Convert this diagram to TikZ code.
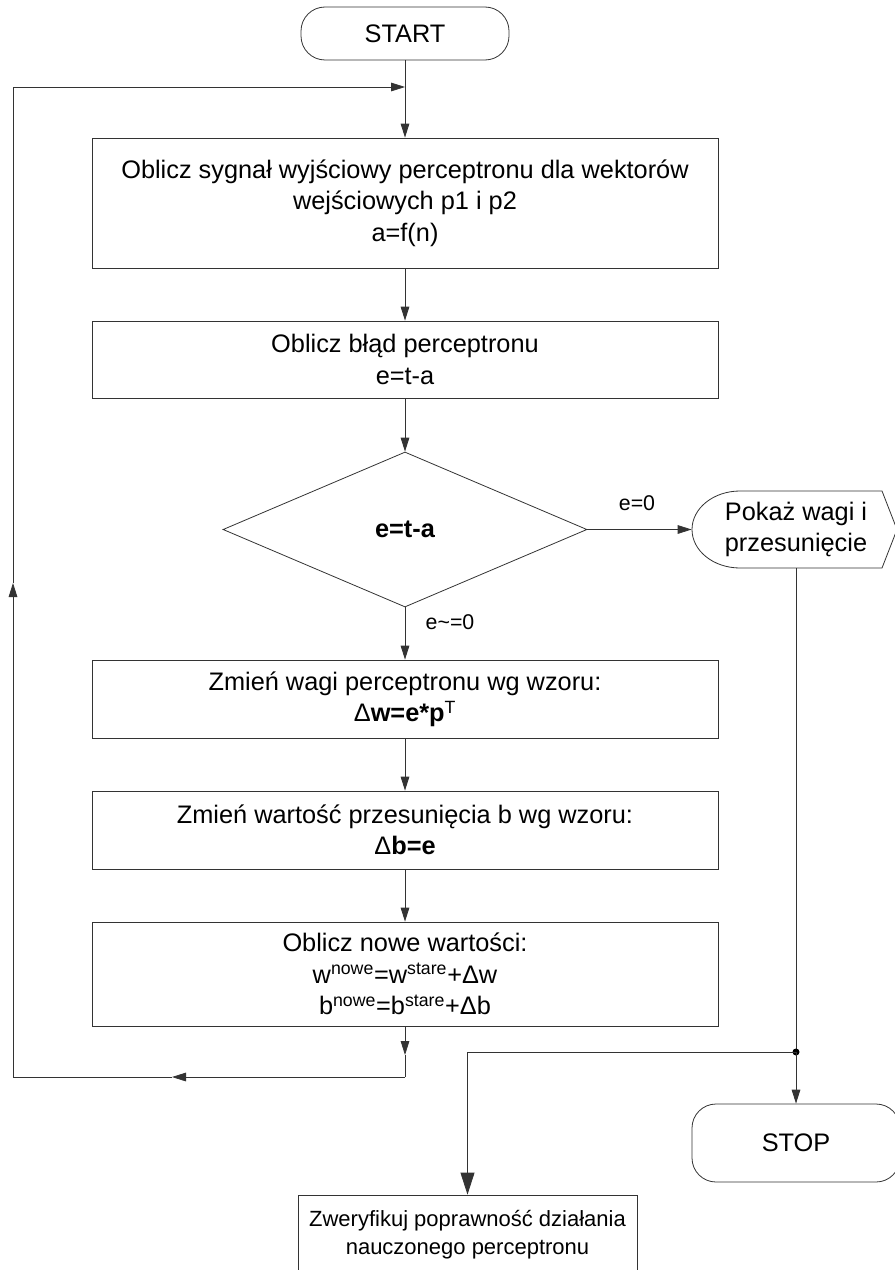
\documentclass[tikz,border=0pt]{standalone}
\usepackage{fontspec}
\setmainfont{Liberation Sans}
\usetikzlibrary{arrows.meta,shapes.geometric}

\tikzset{
  arr/.style={-{Triangle[length=10.5pt,width=6.5pt]}},
  bigarr/.style={-{Triangle[length=16.5pt,width=10.5pt]}},
  box/.style={draw, rectangle, align=center, inner sep=0pt, minimum width=469.5pt,
    font=\fontsize{19}{23.5}\selectfont},
  term/.style={draw, rectangle, rounded corners=18pt, align=center, inner sep=0pt,
    font=\fontsize{19}{22.5}\selectfont},
  lbl/.style={inner sep=0pt, font=\fontsize{16}{19}\selectfont}
}

\begin{document}
\begin{tikzpicture}[x=0.75pt,y=0.75pt,yscale=-1,xscale=1, line width=0.6pt, draw=black!80]
  \useasboundingbox (0,0) rectangle (895,1270);

  %Shape: Terminator [start]
  \draw (405,33.5) node [term, minimum width=156pt, minimum height=39.75pt] (start) {START};
  %Shape: Rectangle [calc]
  \draw (405,203) node [box, minimum height=97.5pt] (calc) {Oblicz sygnał wyjściowy perceptronu dla wektorów\\wejściowych p1 i p2\\a=f(n)};
  %Shape: Rectangle [err]
  \draw (405,359.5) node [box, minimum height=57.75pt] (err) {Oblicz błąd perceptronu\\e=t-a};
  %Shape: Diamond [dec]
  \draw (405,529.5) node [diamond, draw, inner sep=0pt, minimum width=273pt, minimum height=116.25pt, font=\fontsize{19}{22.5}\selectfont] (dec) {\textbf{e=t-a}};
  %Shape: Rectangle [wagi]
  \draw (405,699) node [box, minimum height=58.5pt] (wagi) {Zmień wagi perceptronu wg wzoru:\\Δ\textbf{w=e*p}\textsuperscript{T}};
  %Shape: Rectangle [bias]
  \draw (405,830) node [box, minimum height=58.5pt] (bias) {Zmień wartość przesunięcia b wg wzoru:\\Δ\textbf{b=e}};
  %Shape: Rectangle [upd]
  \draw (405,974) node [box, minimum height=78pt] (upd) {Oblicz nowe wartości:\\w\textsuperscript{nowe}=w\textsuperscript{stare}+Δw\\b\textsuperscript{nowe}=b\textsuperscript{stare}+Δb};

  %Shape: Display [show]
  \draw (796,529.5) node [inner sep=0pt, minimum width=156pt, minimum height=57.75pt, align=center, font=\fontsize{19}{23.5}\selectfont] (show) {Pokaż wagi i\\przesunięcie};
  \draw (740,491) -- (882,491) -- (897,529.5) -- (882,568) -- (740,568) .. controls (713.5,568) and (692,550.8) .. (692,529.5) .. controls (692,508.2) and (713.5,491) .. (740,491) -- cycle ;
  %Shape: Terminator [stop]
  \draw (796,1143) node [term, minimum width=156pt, minimum height=58.5pt] (stop) {STOP};
  %Shape: Rectangle [verify]
  \draw (467.5,1235) node [draw, rectangle, align=center, inner sep=0pt, minimum width=254.25pt, minimum height=60pt, font=\fontsize{16.5}{21}\selectfont] (verify) {Zweryfikuj poprawność działania\\nauczonego perceptronu};

  % Text Node
  \draw (637,503) node [lbl] (lblyes) {e=0};
  % Text Node
  \draw (450,622) node [lbl] (lblno) {e\textasciitilde=0};

  % loop corners
  \coordinate (l1) at (405,1055);
  \coordinate (l2) at (405,1077);
  \coordinate (l3) at (172,1077);
  \coordinate (l4) at (13,1077);
  \coordinate (l5) at (13,583);
  \coordinate (l6) at (13,87);
  \coordinate (l7) at (405,87);
  \coordinate (junc) at (796,1052);

  %Straight Lines
  \draw [arr] (start) -- (calc) ;
  \draw [arr] (calc) -- (err) ;
  \draw [arr] (err) -- (dec) ;
  \draw [arr] (dec) -- (wagi) ;
  \draw [arr] (wagi) -- (bias) ;
  \draw [arr] (bias) -- (upd) ;
  \draw [arr] (dec) -- (show) ;
  \draw (show.south) -- (junc) ;
  \fill (junc) circle (3.5) ;
  \draw [arr] (junc) -- (stop) ;
  \draw [bigarr] (junc) -| (verify) ;
  \draw [arr] (upd) -- (l1) ;
  \draw (l1) -- (l2) ;
  \draw [arr] (l2) -- (l3) ;
  \draw [arr] (l3) -- (l4) -- (l5) ;
  \draw [arr] (l5) -- (l6) -- (l7) ;

\end{tikzpicture}
\end{document}
